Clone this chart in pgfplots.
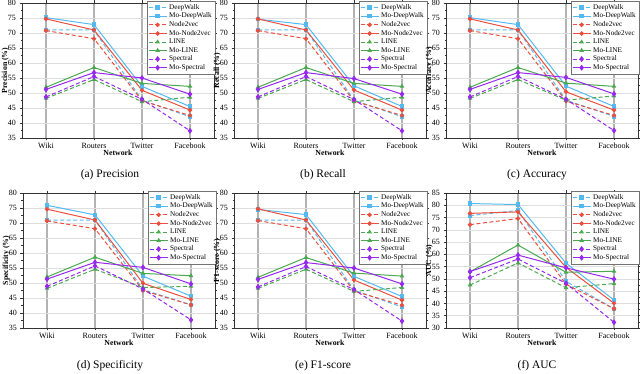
\documentclass[border=0pt]{standalone}
\usepackage{pgfplots}
\usepackage{pgfplotstable}
\pgfplotsset{compat=1.18}
\usepackage{fontspec}
\setmainfont{Liberation Serif}

\definecolor{cDW}{RGB}{84,185,240}
\definecolor{cNV}{RGB}{236,78,62}
\definecolor{cLI}{RGB}{74,168,78}
\definecolor{cSP}{RGB}{150,40,240}

% columns: x, DeepWalk, Mo-DeepWalk, Node2vec, Mo-Node2vec, LINE, Mo-LINE, Spectral, Mo-Spectral
\pgfplotstableread{
x dw mdw nv mnv li mli sp msp
0 71.0 75.1 70.8 74.7 48.2 51.9 48.7 51.2
1 71.0 72.8 68.1 71.0 54.5 58.5 55.5 56.8
2 47.6 52.2 47.4 50.9 47.1 53.2 47.9 55.0
3 42.1 45.5 42.5 44.3 48.6 52.2 37.4 49.6
}\precision
\pgfplotstableread{
x dw mdw nv mnv li mli sp msp
0 71.0 74.6 70.8 74.7 48.2 51.9 48.7 51.2
1 71.0 72.8 68.1 71.0 54.5 58.5 55.5 56.8
2 47.6 52.4 47.3 51.0 47.1 53.2 47.8 54.8
3 42.1 45.5 42.5 44.3 48.6 52.2 37.4 49.6
}\recall
\pgfplotstableread{
x dw mdw nv mnv li mli sp msp
0 71.0 75.1 70.8 74.7 48.2 51.9 48.7 51.2
1 71.0 72.8 68.1 71.0 54.5 58.5 55.5 56.8
2 47.6 52.3 47.3 50.4 47.6 53.3 47.9 55.2
3 42.2 45.5 42.5 44.3 49.0 52.2 37.5 49.7
}\accuracy
\pgfplotstableread{
x dw mdw nv mnv li mli sp msp
0 71.0 75.9 70.7 74.6 48.2 52.0 48.9 51.3
1 71.0 72.7 68.1 71.0 54.6 58.6 55.7 56.9
2 47.8 52.3 47.5 49.9 48.5 53.2 48.0 55.2
3 42.7 45.6 42.7 44.5 48.9 52.4 37.7 49.7
}\specificity
\pgfplotstableread{
x dw mdw nv mnv li mli sp msp
0 71.0 74.5 70.8 74.7 48.2 51.9 48.7 51.2
1 71.0 72.8 68.1 71.0 54.6 58.5 55.5 56.8
2 47.6 52.2 47.3 51.0 47.2 53.3 47.8 55.0
3 42.0 45.5 42.6 44.3 48.5 52.3 37.3 49.7
}\fone
\pgfplotstableread{
x dw mdw nv mnv li mli sp msp
0 75.8 80.7 72.1 76.7 47.5 52.9 50.5 53.0
1 77.9 80.3 74.6 77.3 56.5 63.8 58.1 59.7
2 49.0 56.4 47.8 54.7 46.4 52.7 48.2 54.5
3 37.8 41.4 37.9 40.1 48.1 53.1 32.3 49.9
}\auc

\pgfplotsset{
  dsh/.style={dash pattern=on 4pt off 2.5pt},
  base/.style={line width=1pt, mark size=1.7pt, mark options={solid}},
  panel/.style={
    scale only axis, width=192pt, height=135pt,
    xmin=-0.5, xmax=3.5,
    xtick={0,1,2,3}, xticklabels={Wiki,Routers,Twitter,Facebook},
    minor y tick num=1,
    tick align=outside, major tick length=2.5pt, minor tick length=1.5pt,
    tick style={black!80, line width=0.6pt},
    axis line style={black!80, line width=0.7pt},
    grid=major,
    x grid style={black!30, line width=1.3pt},
    y grid style={black!13, line width=0.6pt},
    ticklabel style={font=\fontsize{8}{8}\selectfont},
    /pgf/number format/assume math mode=true,
    xlabel={Network},
    xlabel style={font=\fontsize{7.8}{8}\bfseries\selectfont, yshift=5pt},
    ylabel style={font=\fontsize{7.8}{8}\bfseries\selectfont,
      at={(axis description cs:-0.087,0.5)}, anchor=center},
    xticklabel style={yshift=1pt},
    legend style={at={(1.005,1.015)}, anchor=north east,
      font=\fontsize{7.2}{7.2}\selectfont, draw=black!55, fill=white,
      inner sep=1pt, row sep=-1.8pt, legend cell align=left},
    legend image code/.code={
      \draw[mark repeat=2,mark phase=2] plot coordinates {(0pt,0pt) (9pt,0pt) (18pt,0pt)};},
  },
}

\newcommand{\panel}[6]{%
  \begin{axis}[panel, at={(#1pt,#2pt)}, anchor=south west,
      ylabel={#4}, ymin=#5, ymax=#6, ytick distance=5]
    \addplot[base, cDW, dsh, mark=square*] table[x=x,y=dw]{#3};
    \addplot[base, cDW, mark=square*] table[x=x,y=mdw]{#3};
    \addplot[base, cNV, dsh, mark=*] table[x=x,y=nv]{#3};
    \addplot[base, cNV, mark=*] table[x=x,y=mnv]{#3};
    \addplot[base, cLI, dsh, mark=triangle*] table[x=x,y=li]{#3};
    \addplot[base, cLI, mark=triangle*] table[x=x,y=mli]{#3};
    \addplot[base, cSP, dsh, mark=diamond*, mark size=2.2pt] table[x=x,y=sp]{#3};
    \addplot[base, cSP, mark=diamond*, mark size=2.2pt] table[x=x,y=msp]{#3};
    \legend{DeepWalk,Mo-DeepWalk,Node2vec,Mo-Node2vec,LINE,Mo-LINE,Spectral,Mo-Spectral}
  \end{axis}%
}

\begin{document}
\begin{tikzpicture}
  \useasboundingbox (0,0) rectangle (640pt,374pt);
  \panel{22}{236}{\precision}{Precision (\%)}{35}{80}
  \panel{234}{236}{\recall}{Recall (\%)}{35}{80}
  \panel{446}{236}{\accuracy}{Accuracy (\%)}{35}{80}
  \panel{23}{46}{\specificity}{Specificity (\%)}{35}{80}
  \panel{234}{46}{\fone}{F1-score (\%)}{35}{80}
  \panel{446}{46}{\auc}{AUC (\%)}{30}{85}
  \begin{scope}[every node/.style={font=\fontsize{11.5}{12}\selectfont}]
    \node at (110pt,199pt) {(a) Precision};
    \node at (323pt,199pt) {(b) Recall};
    \node at (537pt,199pt) {(c) Accuracy};
    \node at (110pt,8pt) {(d) Specificity};
    \node at (323pt,8pt) {(e) F1-score};
    \node at (537pt,8pt) {(f) AUC};
  \end{scope}
\end{tikzpicture}
\end{document}
